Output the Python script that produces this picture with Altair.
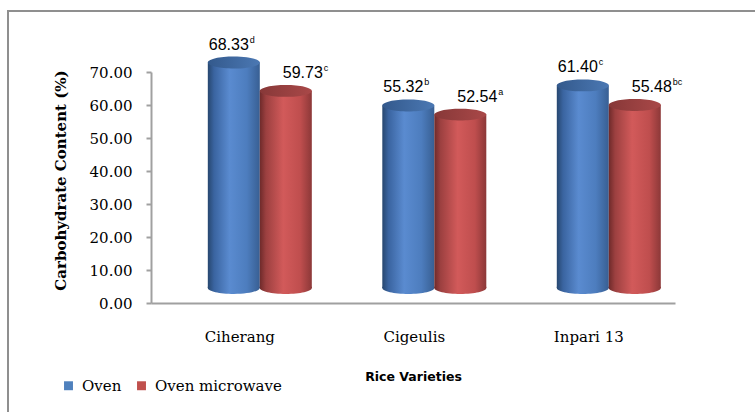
import altair as alt
import pandas as pd

# Carbohydrate content of three rice varieties under two drying methods
varieties = ["Ciherang", "Cigeulis", "Inpari 13"]
methods = ["Oven", "Oven microwave"]
oven_values = [68.33, 55.32, 61.40]
microwave_values = [59.73, 52.54, 55.48]
oven_letters = ["d", "b", "c"]
microwave_letters = ["c", "a", "bc"]
method_colors = ["#4F81BD", "#C0504D"]
y_ticks = [0, 10, 20, 30, 40, 50, 60, 70]

rows = []
for v, val, let in zip(varieties, oven_values, oven_letters):
    rows.append({"variety": v, "method": methods[0], "value": val, "letter": let})
for v, val, let in zip(varieties, microwave_values, microwave_letters):
    rows.append({"variety": v, "method": methods[1], "value": val, "letter": let})
df = pd.DataFrame(rows)

W, H = 524, 231
DEPTH = -15  # 3D depth shift of the cylinders

# cylinder side shading (dark edge, highlight, dark edge)
side_stops = {
    "Oven": [(0, "#27476f"), (0.12, "#3a64a0"), (0.42, "#5a8bd0"), (0.75, "#4d7dbe"), (1, "#385f93")],
    "Oven microwave": [(0, "#6e2a2a"), (0.12, "#9c4040"), (0.45, "#d25a5a"), (0.78, "#bf4e4e"), (1, "#8c3838")],
}
top_stops = {
    "Oven": [(0, "#33598c"), (1, "#4b78b3")],
    "Oven microwave": [(0, "#873838"), (1, "#a94848")],
}


def gradient(stops):
    return alt.Gradient(
        gradient="linear", x1=0, x2=1, y1=0, y2=0,
        stops=[alt.GradientStop(offset=o, color=c) for o, c in stops],
    )


ELLIPSE = ("M -1 0 C -1 -0.127 -0.552 -0.23 0 -0.23 C 0.552 -0.23 1 -0.127 1 0 "
           "C 1 0.127 0.552 0.23 0 0.23 C -0.552 0.23 -1 0.127 -1 0 Z")
LOWER_HALF = ("M -1 -0.05 L 1 -0.05 L 1 0 C 1 0.127 0.552 0.23 0 0.23 "
              "C -0.552 0.23 -1 0.127 -1 0 Z")
CAP_SIZE = 52 * 52

x_enc = alt.X(
    "variety:N",
    sort=varieties,
    scale=alt.Scale(domain=varieties, paddingInner=0.404, paddingOuter=0.2035, align=0.8),
    axis=alt.Axis(
        title="Rice Varieties",
        titleFont="DejaVu Sans", titleFontWeight="bold", titleFontSize=12.5, titleColor="black",
        titleX=262, titleY=73, titleBaseline="middle", titleAlign="center",
        labelAngle=0, labelFont="DejaVu Serif", labelFontSize=15, labelColor="black",
        labelOffset=-20, labelPadding=33, labelBaseline="middle",
        ticks=False, domainColor="#a0a0a0", domainWidth=2,
    ),
)
xo_enc = alt.XOffset(
    "method:N", sort=methods,
    scale=alt.Scale(domain=methods, paddingInner=0, paddingOuter=0),
)
y_scale = alt.Scale(domain=[0, 70], nice=False, zero=True)
y_axis = alt.Axis(
    values=y_ticks, format=".2f", grid=False, labelOverlap=False, labelFlush=False,
    title="Carbohydrate Content (%)",
    titleFont="DejaVu Serif", titleFontWeight="bold", titleFontSize=15, titleColor="black",
    titleX=-91, titleY=108, titleAngle=270, titleAlign="center", titleBaseline="middle",
    labelFont="DejaVu Serif", labelFontSize=15, labelColor="black", labelPadding=14,
    tickSize=5, tickWidth=2, tickColor="#a0a0a0",
    domainColor="#a0a0a0", domainWidth=2,
)
y_enc = alt.Y("value:Q", scale=y_scale, axis=y_axis)
y_base = alt.Y(datum=0, type="quantitative", scale=y_scale, axis=y_axis)

base = alt.Chart(df)
layers = []

label_dx = {"Oven": 15, "Oven microwave": 37}

for m in methods:
    sub = base.transform_filter(alt.datum.method == m)
    sides = sub.mark_bar(color=gradient(side_stops[m]), yOffset=DEPTH, y2Offset=DEPTH).encode(
        x=x_enc, xOffset=xo_enc, y=y_enc, y2=alt.datum(0)
    )
    bottom = sub.mark_point(
        shape=LOWER_HALF, size=CAP_SIZE, filled=True, opacity=1,
        color=gradient(side_stops[m]), yOffset=DEPTH,
    ).encode(x=x_enc, xOffset=xo_enc, y=y_base)
    top = sub.mark_point(
        shape=ELLIPSE, size=CAP_SIZE, filled=True, opacity=1,
        color=gradient(top_stops[m]), yOffset=DEPTH,
    ).encode(x=x_enc, xOffset=xo_enc, y=y_enc)
    value_text = sub.mark_text(
        font="Liberation Sans", fontSize=16, color="black",
        align="right", baseline="alphabetic", dx=label_dx[m], dy=-28,
    ).encode(x=x_enc, xOffset=xo_enc, y=y_enc, text=alt.Text("value:Q", format=".2f"))
    letter_text = sub.mark_text(
        font="Liberation Sans", fontSize=9, color="black",
        align="left", baseline="alphabetic", dx=label_dx[m] + 1, dy=-35,
    ).encode(x=x_enc, xOffset=xo_enc, y=y_enc, text="letter:N")
    layers += [sides, bottom, top, value_text, letter_text]

# legend carrier
legend_layer = base.mark_square(opacity=0).encode(
    x=x_enc, xOffset=xo_enc, y=y_enc,
    color=alt.Color(
        "method:N",
        scale=alt.Scale(domain=methods, range=method_colors),
        legend=alt.Legend(
            title=None, orient="none", legendX=-90, legendY=306, direction="horizontal",
            symbolType="square", symbolSize=80, symbolOpacity=1, symbolStrokeWidth=0,
            labelFont="DejaVu Serif", labelFontSize=15, labelColor="black",
            labelOffset=6, columnPadding=12,
        ),
    ),
)
layers.append(legend_layer)

# outer frame of the figure
frame = alt.Chart(pd.DataFrame({"k": [0]})).mark_rect(
    fillOpacity=0, stroke="#8f8f8f", strokeWidth=2
).encode(x=alt.value(-143), x2=alt.value(640), y=alt.value(-61), y2=alt.value(380))
layers.append(frame)

chart = alt.layer(*layers).properties(
    width=W, height=H,
    autosize=alt.AutoSizeParams(type="none"),
    padding={"left": 151, "top": 72, "right": 80, "bottom": 109},
    background="white",
).configure_view(strokeWidth=0)

chart.save("out.html", embed_options={"renderer": "svg", "actions": False})
